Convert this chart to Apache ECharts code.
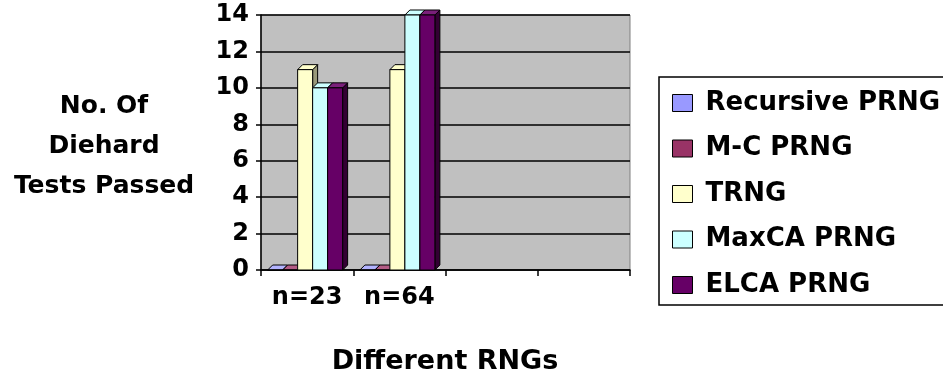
<!DOCTYPE html>
<html>
<head>
<meta charset="utf-8">
<script src="https://cdn.jsdelivr.net/npm/echarts@6/dist/echarts.min.js"></script>
<style>
html,body{margin:0;padding:0;background:#fff;}
#chart{width:943px;height:376px;}
</style>
</head>
<body>
<div id="chart"></div>
<script>
// ---- data ----
const categories = ['n=23', 'n=64', '', ''];
const seriesNames = ['Recursive PRNG', 'M-C PRNG', 'TRNG', 'MaxCA PRNG', 'ELCA PRNG'];
const recursivePRNG = [0, 0];
const mcPRNG = [0, 0];
const trng = [11, 11];
const maxcaPRNG = [10, 14];
const elcaPRNG = [10, 14];
const yTicks = [0, 2, 4, 6, 8, 10, 12, 14];
const seriesValues = [recursivePRNG, mcPRNG, trng, maxcaPRNG, elcaPRNG];

const colors = ['#9999FF', '#993366', '#FFFFCC', '#CCFFFF', '#660066'];
const sideColors = ['#5c5c99', '#5c1f3d', '#99997a', '#7a9999', '#330033'];
const topColors = ['#b3b3ff', '#b35c85', '#FFFFCC', '#CCFFFF', '#7a1f7a'];
const FONT = 'DejaVu Sans';

const chart = echarts.init(document.getElementById('chart'), null, {renderer: 'canvas'});

const BW = 15, D = 5, N = seriesNames.length;

function makeRender(si) {
  return function (params, api) {
    const idx = api.value(0), v = api.value(1);
    const base = api.coord([idx, 0]);
    const top = api.coord([idx, v]);
    const x0 = base[0] - N * BW / 2 + si * BW - 2;
    const x1 = x0 + BW;
    const yt = top[1], yb = base[1];
    const st = {stroke: '#000', lineWidth: 1};
    return {
      type: 'group',
      children: [
        {type: 'polygon', shape: {points: [[x1, yt], [x1 + D, yt - D], [x1 + D, yb - D], [x1, yb]]},
          style: Object.assign({fill: sideColors[si]}, st)},
        {type: 'polygon', shape: {points: [[x0, yt], [x0 + D, yt - D], [x1 + D, yt - D], [x1, yt]]},
          style: Object.assign({fill: topColors[si]}, st)},
        {type: 'rect', shape: {x: x0, y: yt, width: BW, height: yb - yt},
          style: Object.assign({fill: colors[si]}, st)}
      ]
    };
  };
}

const series = seriesNames.map((name, si) => ({
  name: name,
  type: 'custom',
  coordinateSystem: 'cartesian2d',
  itemStyle: {color: colors[si]},
  encode: {x: 0, y: 1},
  data: seriesValues[si].map((v, i) => [i, v]),
  renderItem: makeRender(si),
  z: 3
}));

const option = {
  animation: false,
  backgroundColor: '#fff',
  grid: {
    left: 261, right: 313, top: 15, bottom: 106,
    show: true, backgroundColor: '#c0c0c0', borderColor: '#808080', borderWidth: 1
  },
  xAxis: {
    type: 'category',
    data: categories,
    boundaryGap: true,
    axisLine: {lineStyle: {color: '#000', width: 1.5}},
    axisTick: {show: true, length: 6, lineStyle: {color: '#000', width: 1.5}},
    axisLabel: {color: '#000', fontFamily: FONT, fontWeight: 'bold', fontSize: 24, margin: 16},
    splitLine: {show: false}
  },
  yAxis: {
    type: 'value',
    min: yTicks[0], max: yTicks[yTicks.length - 1], interval: 2,
    axisLine: {show: true, lineStyle: {color: '#000', width: 1.5}},
    axisTick: {show: true, length: 5, lineStyle: {color: '#000', width: 1.5}},
    axisLabel: {color: '#000', fontFamily: FONT, fontWeight: 'bold', fontSize: 24, margin: 12},
    splitLine: {show: true, lineStyle: {color: '#000', width: 1.5}}
  },
  legend: {
    orient: 'vertical',
    left: 672, top: 90,
    padding: 0,
    itemWidth: 20, itemHeight: 17,
    itemGap: 19.5,
    icon: 'rect',
    z: 10,
    data: seriesNames.map((n, i) => ({name: n, itemStyle: {color: colors[i], borderColor: '#000', borderWidth: 1}})),
    textStyle: {color: '#000', fontFamily: FONT, fontWeight: 'bold', fontSize: 26, lineHeight: 26, padding: [0, 0, 0, 8]}
  },
  graphic: [
    {type: 'rect', z: 0, shape: {x: 659, y: 77, width: 300, height: 228},
      style: {fill: '#fff', stroke: '#000', lineWidth: 1.5}},
    {type: 'text', z: 5, x: 104, y: 86,
      style: {text: 'No. Of\nDiehard\nTests Passed', fill: '#000', font: 'bold 25px "DejaVu Sans"',
        textAlign: 'center', textVerticalAlign: 'top', lineHeight: 40}},
    {type: 'text', z: 5, x: 445, y: 362,
      style: {text: 'Different RNGs', fill: '#000', font: 'bold 27px "DejaVu Sans"',
        textAlign: 'center', textVerticalAlign: 'middle'}}
  ],
  series: series
};
chart.setOption(option);
</script>
</body>
</html>
